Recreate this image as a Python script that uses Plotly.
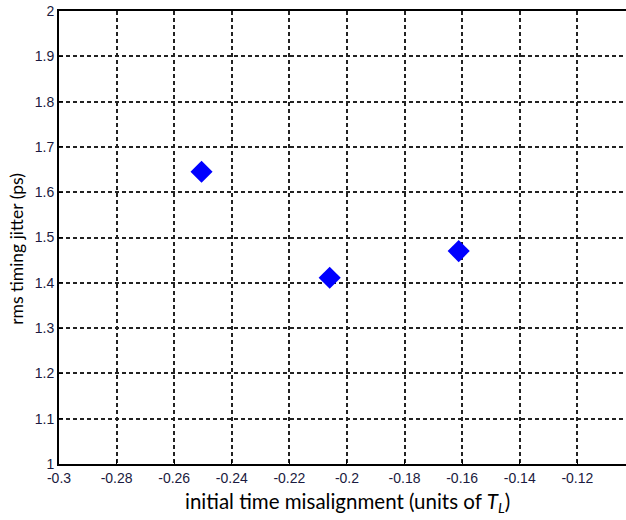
import plotly.graph_objects as go

x_vals = [-0.2505, -0.206, -0.1612]
y_vals = [1.645, 1.411, 1.470]
x_ticks = [-0.3, -0.28, -0.26, -0.24, -0.22, -0.2, -0.18, -0.16, -0.14, -0.12]
x_tick_text = ["-0.3", "-0.28", "-0.26", "-0.24", "-0.22", "-0.2", "-0.18", "-0.16", "-0.14", "-0.12"]
y_ticks = [1, 1.1, 1.2, 1.3, 1.4, 1.5, 1.6, 1.7, 1.8, 1.9, 2]
y_tick_text = ["1", "1.1", "1.2", "1.3", "1.4", "1.5", "1.6", "1.7", "1.8", "1.9", "2"]

fig = go.Figure()
fig.add_trace(go.Scatter(
    x=x_vals, y=y_vals, mode="markers",
    marker=dict(symbol="diamond", size=17, color="#0000ff", line=dict(width=0)),
    showlegend=False,
))

tick_font = dict(family="Liberation Sans", size=14, color="#1a1a40")
common = dict(
    showgrid=True, gridcolor="#222222", gridwidth=1.5, griddash="4px,3px",
    showline=True, linecolor="#000000", linewidth=2,
    ticks="inside", ticklen=4, tickcolor="#000000",
    tickfont=tick_font, zeroline=False, automargin=False,
    ticklabeloverflow="allow",
)
fig.update_xaxes(range=[-0.3, -0.1031], tickvals=x_ticks, ticktext=x_tick_text,
                 mirror=True, **common)
fig.update_yaxes(range=[1, 2], tickvals=y_ticks, ticktext=y_tick_text,
                 mirror=False, **common)

fig.add_annotation(
    text="initial time misalignment (units of <i>T<sub>L</sub></i>)",
    xref="paper", yref="paper", x=0.509, y=-0.086, yanchor="middle",
    showarrow=False, font=dict(family="Lato", size=20.5, color="#000000"),
)
fig.add_annotation(
    text="rms timing jitter (ps)",
    xref="paper", yref="paper", x=-0.074, y=0.475, xanchor="center", yanchor="middle",
    textangle=-90, showarrow=False, font=dict(family="Lato", size=17.5, color="#000000"),
)

fig.update_layout(
    width=626, height=520,
    margin=dict(l=59, r=0, t=11, b=56, autoexpand=False),
    plot_bgcolor="white", paper_bgcolor="white",
)
fig.write_html(
    "out.html",
    config={"displayModeBar": False},
    post_script="document.body.style.margin='0';document.body.style.overflow='hidden';",
)
